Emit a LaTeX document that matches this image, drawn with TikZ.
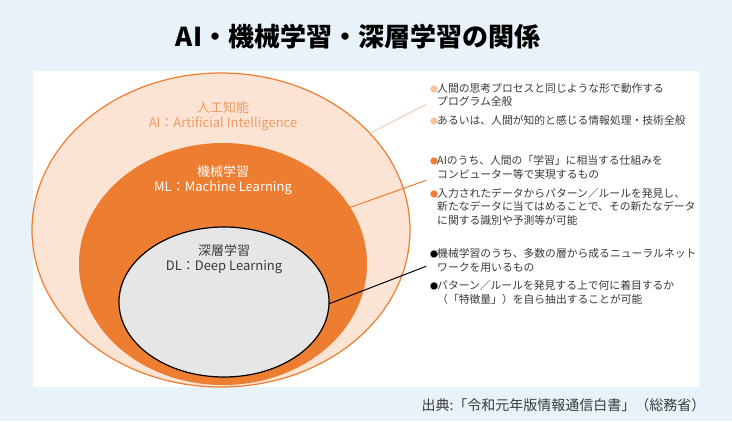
\documentclass[tikz,border=0pt]{standalone}
\usepackage{fontspec}
\setmainfont{Noto Sans CJK JP}
\usetikzlibrary{shapes.geometric}
\definecolor{bgblue}{HTML}{E7F3F9}
\definecolor{mlorange}{HTML}{ED7D31}
\definecolor{aipeach}{HTML}{FCE4D4}
\definecolor{ailabel}{HTML}{EE9A63}
\definecolor{aipale}{HTML}{F4C3A0}
\definecolor{dlgray}{HTML}{E6E6E6}
\definecolor{txtgray}{HTML}{3A3A3A}
\newcommand\bul[1]{\makebox[7pt][l]{\textcolor{#1}{\fontsize{8}{8}\selectfont ●}}}
\newcommand\cont{\hspace*{7pt}}
\begin{document}
\begin{tikzpicture}[x=1pt, y=-1pt, line join=round, line cap=round,
  layer/.style={ellipse, inner sep=0pt, outer sep=0pt},
  note/.style={anchor=north west, align=left, inner sep=0pt, text=txtgray, font=\fontsize{10.8}{13.7}\selectfont},
  layerlabel/.style={align=center, font=\fontsize{13}{15}\selectfont}]
	\useasboundingbox (0,0) rectangle (732,421);
	\fill[bgblue] (0,0) rectangle (732,421);
	\fill[white] (33,71) rectangle (699,387);
	\node[font=\fontsize{26}{26}\selectfont\bfseries] (title) at (358,37) {AI・機械学習・深層学習の関係};
	% nested circles
	\node[layer, draw=mlorange, fill=aipeach, line width=1.2pt, minimum width=378pt, minimum height=314pt] (ai) at (221,230) {};
	\node[layer, fill=mlorange, minimum width=288pt, minimum height=242pt] (ml) at (223,264) {};
	\node[layer, draw=black, fill=dlgray, line width=1.2pt, minimum width=210pt, minimum height=150pt] (dl) at (224,302) {};
	\node[layerlabel, text=ailabel] (ailab) at (223,116) {人工知能\\AI：Artificial Intelligence};
	\node[layerlabel, text=white] (mllab) at (223,180) {機械学習\\ML：Machine Learning};
	\node[layerlabel, text=txtgray] (dllab) at (224,259) {深層学習\\DL：Deep Learning};
	% explanations
	\node[note] (aitxt) at (430,83) {\bul{aipale}人間の思考プロセスと同じような形で動作する\\\cont プログラム全般\\[5pt]
		\bul{aipale}あるいは、人間が知的と感じる情報処理・技術全般};
	\node[note] (mltxt) at (430,155) {\bul{mlorange}AIのうち、人間の「学習」に相当する仕組みを\\\cont コンピューター等で実現するもの\\[5.5pt]
		\bul{mlorange}入力されたデータからパターン／ルールを発見し、\\\cont 新たなデータに当てはめることで、その新たなデータ\\\cont に関する識別や予測等が可能};
	\node[note] (dltxt) at (430,248) {\bul{black}機械学習のうち、多数の層から成るニューラルネット\\\cont ワークを用いるもの\\[5pt]
		\bul{black}パターン／ルールを発見する上で何に着目するか\\\cont （「特徴量」）を自ら抽出することが可能};
	\draw[aipale, line width=0.8pt] (ai.33) -- ([xshift=-4pt]aitxt.west);
	\draw[mlorange, line width=1pt] (ml.24) -- ([xshift=-4pt, yshift=10pt]mltxt.west);
	\draw[black, line width=1pt] (dl.-1) -- ([xshift=-4pt, yshift=10pt]dltxt.west);
	\node[anchor=east, text=txtgray, font=\fontsize{14}{15}\selectfont] (src) at (709,405) {出典:「令和元年版情報通信白書」（総務省）};
\end{tikzpicture}
\end{document}
